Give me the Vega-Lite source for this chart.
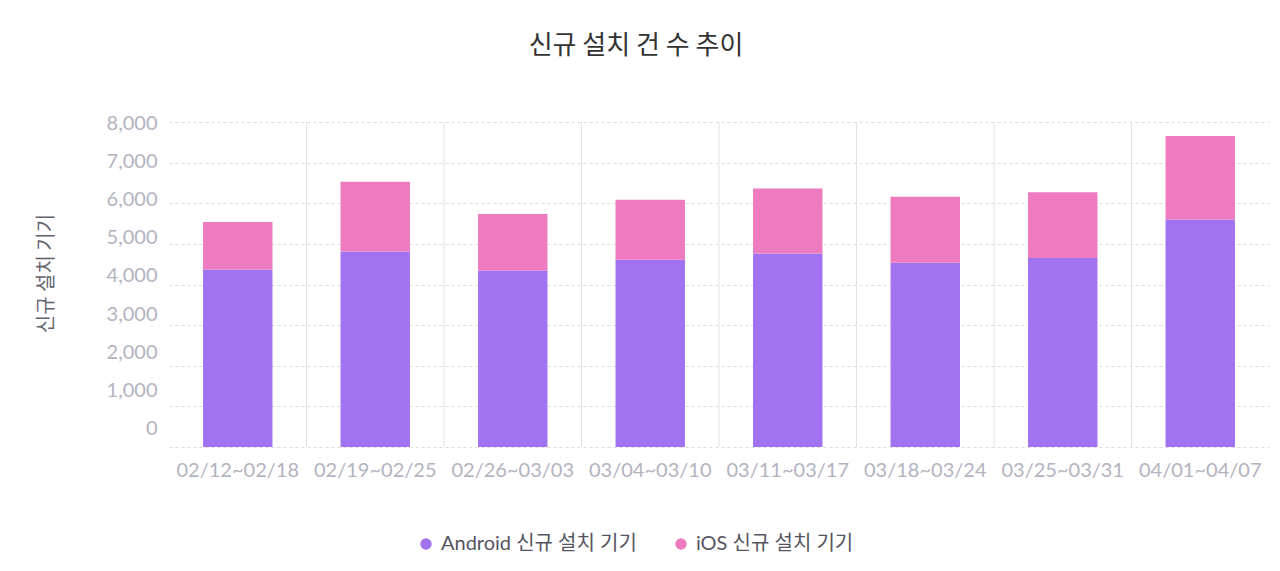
{
  "$schema": "https://vega.github.io/schema/vega-lite/v6.json",
  "width": 1100,
  "height": 325,
  "autosize": {"type": "none"},
  "padding": {"left": 169, "top": 122, "right": 11, "bottom": 124},
  "background": "white",
  "config": {"font": "Lato, Noto Sans CJK KR", "view": {"stroke": null}},
  "title": {
    "text": "신규 설치 건 수 추이",
    "font": "Noto Sans CJK KR",
    "fontSize": 26,
    "fontWeight": "normal",
    "color": "#333333",
    "anchor": "middle",
    "frame": "group",
    "dx": -83,
    "offset": 54
  },
  "data": {
    "values": [
      {"week": "02/12~02/18", "os": "Android 신규 설치 기기", "count": 4370},
      {"week": "02/12~02/18", "os": "iOS 신규 설치 기기", "count": 1171},
      {"week": "02/19~02/25", "os": "Android 신규 설치 기기", "count": 4815},
      {"week": "02/19~02/25", "os": "iOS 신규 설치 기기", "count": 1713},
      {"week": "02/26~03/03", "os": "Android 신규 설치 기기", "count": 4346},
      {"week": "02/26~03/03", "os": "iOS 신규 설치 기기", "count": 1392},
      {"week": "03/04~03/10", "os": "Android 신규 설치 기기", "count": 4610},
      {"week": "03/04~03/10", "os": "iOS 신규 설치 기기", "count": 1474},
      {"week": "03/11~03/17", "os": "Android 신규 설치 기기", "count": 4765},
      {"week": "03/11~03/17", "os": "iOS 신규 설치 기기", "count": 1598},
      {"week": "03/18~03/24", "os": "Android 신규 설치 기기", "count": 4536},
      {"week": "03/18~03/24", "os": "iOS 신규 설치 기기", "count": 1622},
      {"week": "03/25~03/31", "os": "Android 신규 설치 기기", "count": 4652},
      {"week": "03/25~03/31", "os": "iOS 신규 설치 기기", "count": 1620},
      {"week": "04/01~04/07", "os": "Android 신규 설치 기기", "count": 5598},
      {"week": "04/01~04/07", "os": "iOS 신규 설치 기기", "count": 2056}
    ]
  },
  "encoding": {
    "x": {
      "field": "week",
      "type": "nominal",
      "scale": {
        "domain": ["02/12~02/18", "02/19~02/25", "02/26~03/03", "03/04~03/10", "03/11~03/17", "03/18~03/24", "03/25~03/31", "04/01~04/07"],
        "paddingInner": 0,
        "paddingOuter": 0
      },
      "axis": {
        "title": null,
        "labelAngle": 0,
        "labelFontSize": 20,
        "labelColor": "#b3b3bf",
        "labelPadding": 13,
        "ticks": false,
        "domain": false,
        "grid": false
      }
    }
  },
  "layer": [
    {
      "transform": [
        {"filter": "datum.os == 'Android 신규 설치 기기' && datum.week != '02/12~02/18'"}
      ],
      "mark": {"type": "rule", "color": "#e0e0ea", "strokeWidth": 1, "xOffset": {"expr": "-width / 16"}},
      "encoding": {
        "y": {"datum": 0},
        "y2": {"datum": 8000}
      }
    },
    {
      "mark": {"type": "bar", "width": {"band": 0.505}},
      "encoding": {
        "y": {
          "field": "count",
          "type": "quantitative",
          "stack": "zero",
          "scale": {"domain": [0, 8000], "nice": false},
          "axis": {
            "title": "신규 설치 기기",
            "titleFont": "Noto Sans CJK KR",
            "titleFontSize": 20,
            "titleFontWeight": "normal",
            "titleColor": "#62626c",
            "titlePadding": 50,
            "titleY": 151,
            "values": [0, 1000, 2000, 3000, 4000, 5000, 6000, 7000, 8000],
            "format": ",.0f",
            "labelFontSize": 20,
            "labelColor": "#b3b3bf",
            "labelPadding": 12,
            "labelOffset": {"expr": "-18.4 + 0.00246 * datum.value"},
            "ticks": false,
            "domain": false,
            "grid": true,
            "gridColor": "#dcdcdc",
            "gridDash": [3, 3],
            "gridWidth": 1
          }
        },
        "color": {
          "field": "os",
          "type": "nominal",
          "scale": {
            "domain": ["Android 신규 설치 기기", "iOS 신규 설치 기기"],
            "range": ["#a173f0", "#ee7bbf"]
          },
          "legend": {
            "title": null,
            "orient": "none",
            "direction": "horizontal",
            "legendX": 247,
            "legendY": 412,
            "symbolType": "circle",
            "symbolSize": 130,
            "symbolStrokeWidth": 0,
            "labelFontSize": 20,
            "labelColor": "#55555f",
            "labelOffset": 5,
            "labelLimit": 400,
            "columnPadding": 34
          }
        },
        "order": {"field": "os", "sort": "ascending"}
      }
    }
  ]
}
